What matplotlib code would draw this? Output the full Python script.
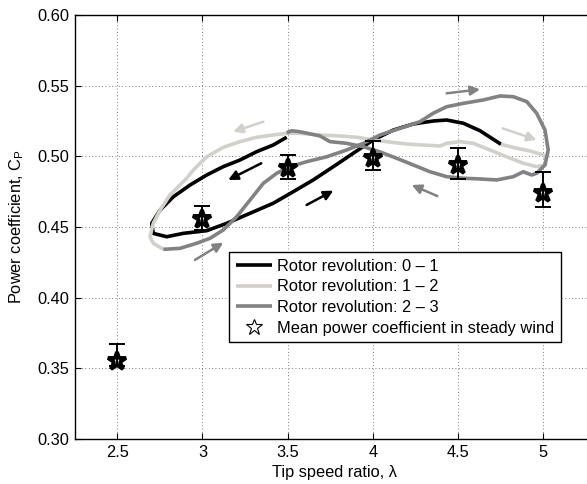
import matplotlib
matplotlib.use('Agg')
import matplotlib.pyplot as plt
from matplotlib.lines import Line2D

plt.rcParams['font.family'] = ['Liberation Sans', 'DejaVu Sans']
plt.rcParams['mathtext.fontset'] = 'custom'
plt.rcParams['mathtext.rm'] = 'Liberation Sans'

# rotor revolution 0 - 1 (tip speed ratio, power coefficient)
rev01_tsr = [3.494, 3.415, 3.318, 3.220, 3.122, 3.025, 2.927, 2.829, 2.751, 2.702,
             2.711, 2.790, 2.887, 3.025, 3.142, 3.279, 3.415, 3.533, 3.650, 3.768,
             3.885, 4.002, 4.120, 4.237, 4.354, 4.433, 4.531, 4.629, 4.752]
rev01_cp = [0.5135, 0.5080, 0.5033, 0.4974, 0.4927, 0.4868, 0.4797, 0.4714, 0.4620, 0.4526,
            0.4455, 0.4431, 0.4455, 0.4474, 0.4526, 0.4597, 0.4668, 0.4750, 0.4833, 0.4927,
            0.5022, 0.5116, 0.5186, 0.5229, 0.5250, 0.5257, 0.5234, 0.5181, 0.5085]

# rotor revolution 1 - 2
rev12_tsr = [4.752, 4.844, 4.922, 5.000, 5.016, 5.010, 4.961, 4.883, 4.785, 4.687,
             4.589, 4.511, 4.433, 4.394, 4.198, 4.081, 4.002, 3.905, 3.807, 3.690,
             3.572, 3.494, 3.415, 3.318, 3.220, 3.122, 3.025, 2.946, 2.907, 2.868,
             2.809, 2.751, 2.711, 2.692, 2.711, 2.770]
rev12_cp = [0.5085, 0.5057, 0.5038, 0.5010, 0.4986, 0.4939, 0.4927, 0.4951, 0.4997, 0.5045,
            0.5092, 0.5104, 0.5092, 0.5073, 0.5087, 0.5104, 0.5116, 0.5135, 0.5144, 0.5151,
            0.5163, 0.5163, 0.5151, 0.5135, 0.5104, 0.5064, 0.4997, 0.4903, 0.4845, 0.4797,
            0.4726, 0.4620, 0.4526, 0.4431, 0.4385, 0.4342]

# rotor revolution 2 - 3
rev23_tsr = [2.770, 2.868, 2.966, 3.044, 3.122, 3.201, 3.279, 3.357, 3.435, 3.514,
             3.611, 3.729, 3.846, 3.944, 4.042, 4.159, 4.276, 4.354, 4.433, 4.531,
             4.648, 4.746, 4.824, 4.903, 4.961, 5.010, 5.029, 5.010, 4.961, 4.932,
             4.883, 4.824, 4.727, 4.629, 4.531, 4.433, 4.335, 4.237, 4.140, 4.042,
             3.944, 3.846, 3.748, 3.690, 3.572, 3.523, 3.494]
rev23_cp = [0.4342, 0.4349, 0.4385, 0.4420, 0.4479, 0.4573, 0.4691, 0.4809, 0.4880, 0.4927,
            0.4962, 0.4997, 0.5045, 0.5092, 0.5151, 0.5198, 0.5245, 0.5305, 0.5351, 0.5375,
            0.5399, 0.5427, 0.5422, 0.5387, 0.5305, 0.5186, 0.5045, 0.4939, 0.4880, 0.4868,
            0.4891, 0.4856, 0.4833, 0.4840, 0.4845, 0.4856, 0.4891, 0.4939, 0.4986, 0.5031,
            0.5068, 0.5092, 0.5104, 0.5144, 0.5174, 0.5181, 0.5167]

# mean power coefficient in steady wind, with min / max
steady_tsr = [2.5, 3.0, 3.5, 4.0, 4.5, 5.0]
steady_cp = [0.355, 0.456, 0.492, 0.499, 0.494, 0.474]
steady_low = [0.352, 0.448, 0.484, 0.490, 0.484, 0.464]
steady_high = [0.367, 0.465, 0.501, 0.511, 0.506, 0.489]

# direction arrows: tail, head, colour
arrow_tails = [(3.357, 0.5245), (3.345, 0.4951), (3.611, 0.4656), (2.956, 0.4267),
               (4.433, 0.5446), (4.762, 0.5198), (4.378, 0.4719)]
arrow_heads = [(3.180, 0.5174), (3.151, 0.4833), (3.768, 0.4757), (3.122, 0.4389),
               (4.629, 0.5474), (4.961, 0.5116), (4.228, 0.4797)]

black = 'black'
light = '#d3d0c8'
dark = '#828282'
arrow_colors = [light, black, black, dark, dark, light, dark]

fig = plt.figure(figsize=(5.87, 4.84), dpi=100)
ax = fig.add_axes([74.7 / 587, 45 / 484, 519.7 / 587, 424 / 484])

l1, = ax.plot(rev01_tsr, rev01_cp, color=black, lw=2.6, solid_capstyle='butt')
l2, = ax.plot(rev12_tsr, rev12_cp, color=light, lw=2.6, solid_capstyle='butt')
l3, = ax.plot(rev23_tsr, rev23_cp, color=dark, lw=2.6, solid_capstyle='butt')

for t, h, c in zip(arrow_tails, arrow_heads, arrow_colors):
    ax.annotate('', xy=h, xytext=t,
                arrowprops=dict(arrowstyle='-|>', color=c, lw=1.8,
                                mutation_scale=14, shrinkA=0, shrinkB=0))

# error bars
yerr = [[m - lo for m, lo in zip(steady_cp, steady_low)],
        [hi - m for m, hi in zip(steady_cp, steady_high)]]
ax.errorbar(steady_tsr, steady_cp, yerr=yerr, fmt='none', ecolor='black',
            elinewidth=1.4, capsize=5.5, capthick=1.4, zorder=4)
ax.plot(steady_tsr, steady_cp, ls='none', marker='*', ms=13.5, mfc='none',
        mec='black', mew=2.8, zorder=5)

ax.set_xlim(2.25, 5.3)
ax.set_ylim(0.30, 0.60)
ax.set_xticks(steady_tsr)
ax.set_xticklabels(['2.5', '3', '3.5', '4', '4.5', '5'])
ax.set_yticks([0.30, 0.35, 0.40, 0.45, 0.50, 0.55, 0.60])
ax.set_yticklabels(['0.30', '0.35', '0.40', '0.45', '0.50', '0.55', '0.60'])
ax.tick_params(direction='in', top=True, right=True, length=4.5, width=0.8,
               labelsize=11.8, pad=4)
ax.grid(True, color='#555555', linestyle=(0, (1, 3)), linewidth=0.6)
for s in ax.spines.values():
    s.set_linewidth(1.0)

ax.set_xlabel('Tip speed ratio, λ', fontsize=11.8, labelpad=4)
ax.set_ylabel('Power coefficient, C$_\\mathrm{P}$', fontsize=11.8, labelpad=8)

star = Line2D([], [], ls='none', marker='*', ms=12, mfc='none', mec='black', mew=0.8)
leg = ax.legend([l1, l2, l3, star],
                ['Rotor revolution: 0 – 1', 'Rotor revolution: 1 – 2',
                 'Rotor revolution: 2 – 3', 'Mean power coefficient in steady wind'],
                loc='upper left', bbox_to_anchor=(0.297, 0.441), borderaxespad=0,
                fontsize=11.8, fancybox=False, framealpha=1, edgecolor='black',
                handlelength=2.2, handletextpad=0.35, labelspacing=0.35,
                borderpad=0.4)
leg.get_frame().set_linewidth(1.0)

plt.savefig('out.png', dpi=100)
